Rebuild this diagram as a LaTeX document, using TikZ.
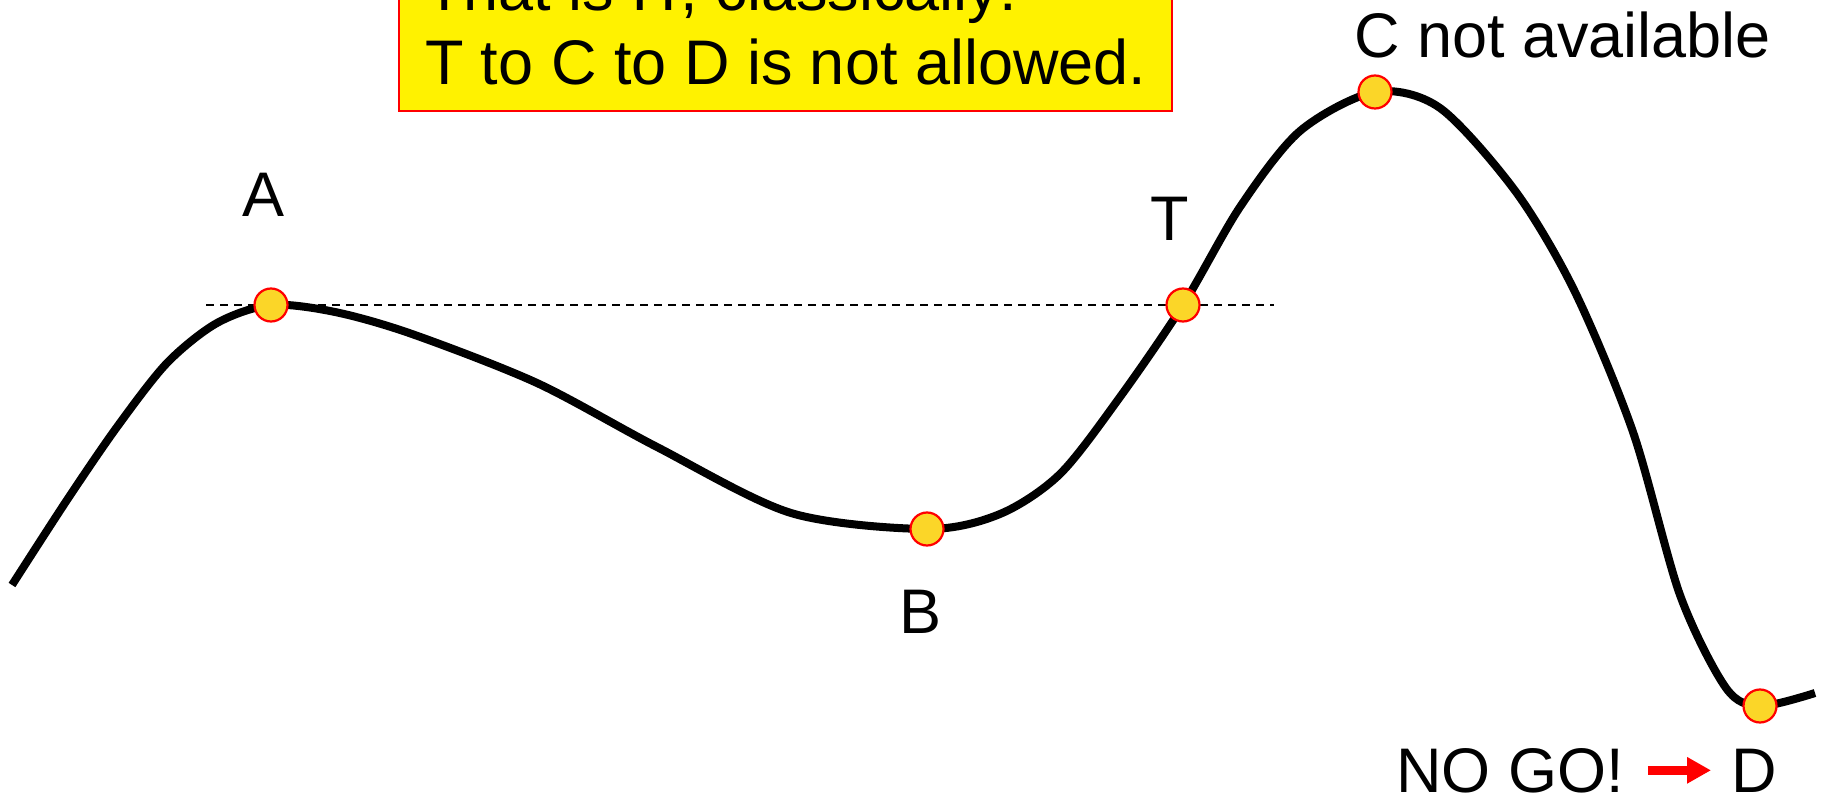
\documentclass[tikz,border=0pt]{standalone}
\usepackage{fontspec}
\setmainfont{Liberation Sans}
\usetikzlibrary{arrows.meta}
\definecolor{dotgold}{RGB}{251,214,40}
\begin{document}
\begin{tikzpicture}[x=1pt,y=-1pt,
  lbl/.style={inner sep=0pt, font=\fontsize{63}{74}\selectfont},
  dot/.style={circle, draw=red, line width=2.2pt, fill=dotgold, minimum size=33pt, inner sep=0pt},
  curve/.style={line width=8pt, line join=round},
  guide/.style={line width=2pt, dash pattern=on 8pt off 6pt},
  nogoarrow/.style={red, line width=9pt, -{Triangle[length=24pt,width=25pt]}}]
\useasboundingbox (0,0) rectangle (1829,799);
\fill[white] (0,0) rectangle (1829,799);
% yellow box (top clipped by page)
\node[lbl, draw=red, line width=2pt, fill=yellow, anchor=south west,
      inner xsep=26pt, inner ysep=26pt, align=left] (box) at (398,112)
  {That is IT, classically:\\T to C to D is not allowed.};
% points on the curve
\coordinate (pA) at (271,305);
\coordinate (pB) at (927,529);
\coordinate (pT) at (1183,305);
\coordinate (pC) at (1375,92);
\coordinate (pD) at (1760,706);
% dashed level line
\draw[guide] ([xshift=-65pt]pA) -- ([xshift=91pt]pT);
% energy curve
\draw[curve] plot[smooth, tension=0.5] coordinates {
 (12,585) (67,500) (117,427) (167,363) (217,323) (pA) (335,312)
 (412,334) (537,383) (657,447) (791,513) (pB)
 (1000,514) (1060,474) (1120,397) (pT) (1240,207) (1300,131) (pC)
 (1440,108) (1516,192) (1575,292) (1633,432) (1680,595) (1726,688) (pD) (1815,693)};
% dots
\node[dot] (A) at (pA) {};
\node[dot] (B) at (pB) {};
\node[dot] (T) at (pT) {};
\node[dot] (C) at (pC) {};
\node[dot] (D) at (pD) {};
% labels
\node[lbl, anchor=base] (la) at (264,217) {A};
\node[lbl, anchor=base] (lb) at (920,633) {B};
\node[lbl, anchor=base] (lt) at (1170,241) {T};
\node[lbl, anchor=base west] (lc) at (1354,58) {C not available};
\node[lbl, anchor=base west] (nogo) at (1396,792) {NO GO!};
\node[lbl, anchor=base west] (ld) at (1731,792) {D};
\draw[nogoarrow, shorten <=24pt, shorten >=20pt] (nogo.east) -- (nogo.east -| ld.west);
\end{tikzpicture}
\end{document}
